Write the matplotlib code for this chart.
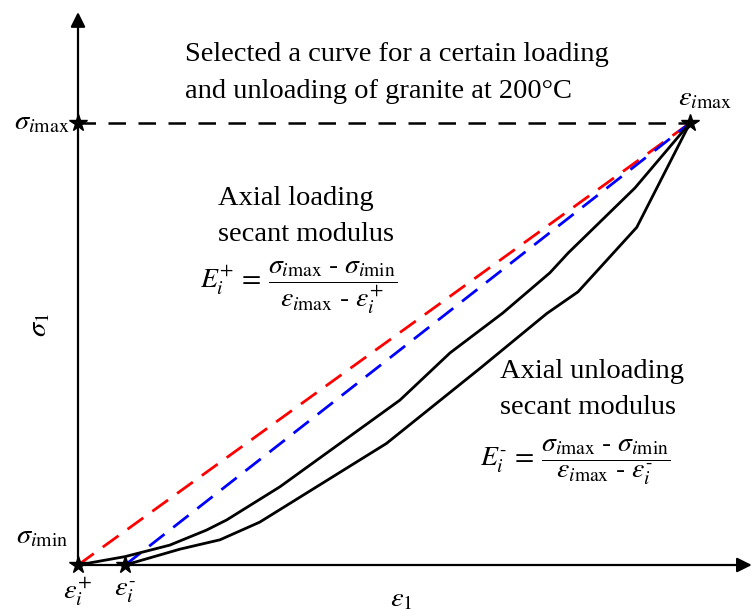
import matplotlib
matplotlib.use("Agg")
import matplotlib.pyplot as plt

plt.rcParams['font.family'] = ['Liberation Serif', 'DejaVu Serif']
plt.rcParams['mathtext.fontset'] = 'stix'

# normalised strain / stress (eps_imax = 1, sigma_imax = 1)
eps_plus = 0.0
eps_minus = 0.077
eps_max = 1.0
sig_min = 0.0
sig_max = 1.0

# loading branch
load_eps = [0.0, 0.077, 0.150, 0.210, 0.243, 0.330, 0.526, 0.608, 0.694, 0.771, 0.801, 0.910, 1.0]
load_sig = [0.0, 0.019, 0.045, 0.079, 0.102, 0.177, 0.373, 0.480, 0.570, 0.661, 0.706, 0.853, 1.0]

# unloading branch
unload_eps = [0.077, 0.167, 0.232, 0.297, 0.504, 0.657, 0.766, 0.817, 0.913, 1.0]
unload_sig = [0.0, 0.036, 0.057, 0.097, 0.275, 0.445, 0.569, 0.618, 0.764, 1.0]

fig = plt.figure(figsize=(7.55, 6.16), dpi=100)
ax = fig.add_axes([0, 0, 1, 1])
ax.set_xlim(-78 / 612, 677 / 612)
ax.set_ylim(-51 / 442, 565 / 442)
ax.axis('off')

# axes with arrows
ax.annotate('', xy=(0, 1.251), xytext=(0, 0),
            arrowprops=dict(arrowstyle='-|>', mutation_scale=22, color='k', lw=1.6,
                            shrinkA=0, shrinkB=0))
ax.annotate('', xy=(1.101, 0), xytext=(0, 0),
            arrowprops=dict(arrowstyle='-|>', mutation_scale=22, color='k', lw=1.6,
                            shrinkA=0, shrinkB=0))

# secant lines
ax.plot([eps_plus, eps_max], [sig_min, sig_max], color='red', lw=2, dashes=(7, 4))
ax.plot([eps_minus, eps_max], [sig_min, sig_max], color='blue', lw=2, dashes=(7, 4))
ax.plot([0, eps_max], [sig_max, sig_max], color='k', lw=1.8, dashes=(7, 5))

# curves
ax.plot(load_eps, load_sig, color='k', lw=2)
ax.plot(unload_eps, unload_sig, color='k', lw=2)

# markers
ax.plot([eps_plus, eps_minus, eps_max, 0], [sig_min, sig_min, sig_max, sig_max],
        linestyle='none', marker='*', color='k', markersize=13, zorder=5)

fs = 20.5
ax.text(0.175, 1.155, 'Selected a curve for a certain loading', fontsize=fs, ha='left', va='center')
ax.text(0.175, 1.071, 'and unloading of granite at 200\u00b0C', fontsize=fs, ha='left', va='center')

ax.text(-0.013, 1.0, r'$\sigma_{i\mathrm{max}}$', fontsize=fs, ha='right', va='center')
ax.text(-0.016, 0.063, r'$\sigma_{i\mathrm{min}}$', fontsize=fs, ha='right', va='center')
ax.text(1.025, 1.054, r'$\varepsilon_{i\mathrm{max}}$', fontsize=fs, ha='center', va='center')
ax.text(-0.062, 0.543, r'$\sigma_1$', fontsize=fs, ha='center', va='center', rotation=90)
ax.text(0.529, -0.079, r'$\varepsilon_1$', fontsize=fs, ha='center', va='center')
ax.text(eps_plus, -0.061, r'$\varepsilon_i^{+}$', fontsize=fs, ha='center', va='center')
ax.text(eps_minus, -0.061, r'$\varepsilon_i^{\text{-}}$', fontsize=fs, ha='center', va='center')

ax.text(0.229, 0.830, 'Axial loading', fontsize=fs, ha='left', va='center')
ax.text(0.229, 0.747, 'secant modulus', fontsize=fs, ha='left', va='center')
ax.text(0.199, 0.628,
        r'$E_i^{+}\,=\,\dfrac{\sigma_{i\mathrm{max}}\ \text{-}\ \sigma_{i\mathrm{min}}}'
        r'{\varepsilon_{i\mathrm{max}}\ \text{-}\ \varepsilon_i^{+}}$',
        fontsize=20, ha='left', va='center')

ax.text(0.690, 0.437, 'Axial unloading', fontsize=fs, ha='left', va='center')
ax.text(0.690, 0.357, 'secant modulus', fontsize=fs, ha='left', va='center')
ax.text(0.657, 0.232,
        r'$E_i^{\text{-}}\,=\,\dfrac{\sigma_{i\mathrm{max}}\ \text{-}\ \sigma_{i\mathrm{min}}}'
        r'{\varepsilon_{i\mathrm{max}}\ \text{-}\ \varepsilon_i^{\text{-}}}$',
        fontsize=20, ha='left', va='center')

fig.savefig('out.png', dpi=100)
